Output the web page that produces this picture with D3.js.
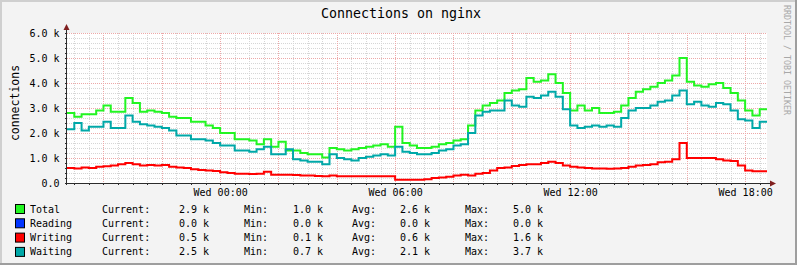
<!DOCTYPE html>
<meta charset="utf-8">
<script src="https://d3js.org/d3.v7.min.js"></script>
<style>
  body { margin: 0; background: #fff; }
  text { font-family: "DejaVu Sans Mono", monospace; }
</style>
<div id="chart"></div>
<script>

// one value every 15 minutes, starting Tue 18:45
var total = [
  2.80, 2.65, 2.75, 2.75, 2.90, 3.10, 2.85, 2.85, 3.40, 3.20, 2.85, 2.90,
  2.85, 2.80, 2.65, 2.60, 2.60, 2.45, 2.45, 2.30, 2.20, 2.00, 2.00, 1.75,
  1.75, 1.70, 1.55, 1.75, 1.45, 1.65, 1.30, 1.30, 1.20, 1.15, 1.15, 1.02,
  1.40, 1.35, 1.30, 1.35, 1.40, 1.45, 1.50, 1.55, 1.45, 2.25, 1.60, 1.50,
  1.40, 1.40, 1.45, 1.55, 1.60, 1.70, 1.75, 2.30, 2.90, 3.10, 3.20, 3.30,
  3.60, 3.70, 3.75, 4.20, 4.05, 4.10, 4.35, 4.00, 3.60, 2.90, 3.10, 2.90,
  3.00, 2.80, 2.80, 2.85, 3.10, 3.40, 3.65, 3.75, 3.85, 4.00, 4.10, 4.30,
  5.00, 4.05, 3.90, 3.85, 3.95, 4.00, 3.80, 3.60, 3.30, 2.90, 2.70, 2.95
];
var reading = [
  0, 0, 0, 0, 0, 0, 0, 0, 0, 0, 0, 0, 0, 0, 0, 0, 0, 0, 0, 0, 0, 0, 0, 0,
  0, 0, 0, 0, 0, 0, 0, 0, 0, 0, 0, 0, 0, 0, 0, 0, 0, 0, 0, 0, 0, 0, 0, 0,
  0, 0, 0, 0, 0, 0, 0, 0, 0, 0, 0, 0, 0, 0, 0, 0, 0, 0, 0, 0, 0, 0, 0, 0,
  0, 0, 0, 0, 0, 0, 0, 0, 0, 0, 0, 0, 0, 0, 0, 0, 0, 0, 0, 0, 0, 0, 0, 0
];
var writing = [
  0.60, 0.58, 0.62, 0.60, 0.65, 0.67, 0.70, 0.75, 0.80, 0.75, 0.70, 0.72,
  0.70, 0.72, 0.65, 0.62, 0.60, 0.55, 0.52, 0.50, 0.48, 0.43, 0.40, 0.37,
  0.37, 0.36, 0.37, 0.45, 0.33, 0.33, 0.33, 0.32, 0.30, 0.30, 0.28, 0.27,
  0.30, 0.27, 0.27, 0.27, 0.27, 0.27, 0.27, 0.27, 0.27, 0.13, 0.13, 0.13,
  0.13, 0.15, 0.20, 0.22, 0.25, 0.30, 0.33, 0.30, 0.37, 0.40, 0.50, 0.60,
  0.62, 0.68, 0.72, 0.75, 0.75, 0.80, 0.85, 0.80, 0.70, 0.65, 0.62, 0.60,
  0.58, 0.58, 0.57, 0.58, 0.60, 0.65, 0.70, 0.72, 0.75, 0.83, 0.85, 0.95,
  1.60, 1.00, 1.00, 1.00, 1.00, 0.95, 0.90, 0.88, 0.70, 0.50, 0.47, 0.47
];
var waiting = [
  2.15, 2.40, 2.10, 2.25, 2.25, 2.45, 2.20, 2.20, 2.70, 2.45, 2.35, 2.30,
  2.25, 2.20, 2.10, 1.90, 1.90, 1.75, 1.75, 1.70, 1.60, 1.50, 1.50, 1.30,
  1.30, 1.25, 1.35, 1.45, 1.15, 1.15, 1.35, 0.95, 0.90, 0.85, 0.85, 0.75,
  1.15, 1.00, 0.95, 0.90, 1.00, 1.05, 1.10, 1.15, 1.10, 1.45, 1.25, 1.20,
  1.15, 1.15, 1.20, 1.30, 1.35, 1.50, 1.55, 2.00, 2.70, 2.85, 2.90, 2.90,
  3.30, 3.10, 3.05, 3.45, 3.40, 3.50, 3.65, 3.45, 2.95, 2.30, 2.20, 2.25,
  2.30, 2.25, 2.30, 2.25, 2.60, 2.90, 3.00, 3.00, 3.10, 3.25, 3.30, 3.50,
  3.70, 3.15, 3.25, 3.10, 3.05, 3.20, 3.15, 2.90, 2.55, 2.50, 2.20, 2.45
];

var seriesNames = ["Total", "Reading", "Writing", "Waiting"];
var currentVals = ["2.9 k", "0.0 k", "0.5 k", "2.5 k"];
var minVals     = ["1.0 k", "0.0 k", "0.1 k", "0.7 k"];
var avgVals     = ["2.6 k", "0.0 k", "0.6 k", "2.1 k"];
var maxVals     = ["5.0 k", "0.0 k", "1.6 k", "3.7 k"];

var yTicks = [0, 1, 2, 3, 4, 5, 6];
var yTickLabels = ["0.0", "1.0 k", "2.0 k", "3.0 k", "4.0 k", "5.0 k", "6.0 k"];

var colors = ["#22f522", "#0033ff", "#ff0000", "#00a8a8"];

var W = 797, H = 265;
var pL = 67, pR = 767, pT = 33, pB = 183;

var start = new Date(2024, 0, 2, 18, 45);
var end = new Date(2024, 0, 3, 18, 45);
var stepMs = 15 * 60 * 1000;

var svg = d3.select("#chart").append("svg")
  .attr("width", W).attr("height", H);

// background + 3d frame
svg.append("rect").attr("width", W).attr("height", H).attr("fill", "#f3f3f3");
svg.append("rect").attr("x", pL).attr("y", pT).attr("width", pR - pL).attr("height", pB - pT).attr("fill", "#fff");
svg.append("path").attr("d", "M0,1H" + W + "M1,0V" + H).attr("stroke", "#cfcfcf").attr("stroke-width", 2).attr("fill", "none");
svg.append("path").attr("d", "M0," + (H - 1) + "H" + W + "M" + (W - 1) + ",0V" + H).attr("stroke", "#9e9e9e").attr("stroke-width", 2).attr("fill", "none");

// lines are clipped to the canvas, so a zero series hides under the axis
svg.append("clipPath").attr("id", "plotclip").append("rect")
  .attr("x", pL).attr("y", pT - 10).attr("width", pR - pL).attr("height", pB - pT + 9);

var x = d3.scaleTime().domain([start, end]).range([pL, pR]);
var y = d3.scaleLinear().domain([0, 6]).range([pB, pT]);

// grid
var g = svg.append("g").attr("shape-rendering", "crispEdges");
var minorX = d3.timeMinute.every(30).range(start, end).filter(function(d) { return d.getMinutes() == 0 ? d.getHours() % 2 != 0 : true; });
var majorX = d3.timeHour.every(2).range(start, end);
var minorY = d3.range(0, 30).map(function(d) { return d / 5; }).filter(function(d) { return Math.round(d * 5) % 5 != 0; });

g.selectAll(".mx").data(minorX).enter().append("line")
  .attr("x1", function(d) { return Math.round(x(d)) + 0.5; })
  .attr("x2", function(d) { return Math.round(x(d)) + 0.5; })
  .attr("y1", pT).attr("y2", pB)
  .attr("stroke", "#d6d6d6").attr("stroke-dasharray", "1,1");
g.selectAll(".my").data(minorY).enter().append("line")
  .attr("y1", function(d) { return Math.round(y(d)) + 0.5; })
  .attr("y2", function(d) { return Math.round(y(d)) + 0.5; })
  .attr("x1", pL).attr("x2", pR)
  .attr("stroke", "#d6d6d6").attr("stroke-dasharray", "1,1");
g.selectAll(".Mx").data(majorX).enter().append("line")
  .attr("x1", function(d) { return Math.round(x(d)) + 0.5; })
  .attr("x2", function(d) { return Math.round(x(d)) + 0.5; })
  .attr("y1", pT).attr("y2", pB)
  .attr("stroke", "#eda8a8").attr("stroke-dasharray", "1,1");
g.selectAll(".My").data(yTicks.slice(1)).enter().append("line")
  .attr("y1", function(d) { return Math.round(y(d)) + 0.5; })
  .attr("y2", function(d) { return Math.round(y(d)) + 0.5; })
  .attr("x1", pL).attr("x2", pR)
  .attr("stroke", "#eda8a8").attr("stroke-dasharray", "1,1");

// series lines
var line = d3.line()
  .x(function(d, i) { return x(new Date(start.getTime() + i * stepMs)); })
  .y(function(d) { return y(d); })
  .curve(d3.curveStepAfter);

[total, reading, writing, waiting].forEach(function(s, k) {
  svg.append("path")
    .attr("clip-path", "url(#plotclip)")
    .attr("d", line(s.concat([s[s.length - 1]])))
    .attr("fill", "none")
    .attr("stroke", colors[k])
    .attr("stroke-width", 2);
});

// axes
var axisColor = "#2c2c2c";
var xAxis = svg.append("g").attr("transform", "translate(0," + (pB + 0.5) + ")")
  .call(d3.axisBottom(x).tickValues(d3.timeHour.every(6).range(start, end)).tickFormat(d3.timeFormat("%a %H:%M")).tickSize(0).tickPadding(5));
xAxis.select(".domain").remove();
xAxis.selectAll("text").attr("font-size", 10).attr("fill", "#000").attr("font-family", "DejaVu Sans Mono");

var yAxis = svg.append("g").attr("transform", "translate(" + (pL - 0.5) + ",0)")
  .call(d3.axisLeft(y).tickValues(yTicks).tickFormat(function(d, i) { return yTickLabels[i]; }).tickSize(0).tickPadding(7));
yAxis.select(".domain").remove();
yAxis.selectAll("text").attr("font-size", 10).attr("fill", "#000").attr("font-family", "DejaVu Sans Mono");

// small ticks on the axes
var tk = svg.append("g").attr("stroke", axisColor).attr("shape-rendering", "crispEdges");
minorX.concat(majorX).forEach(function(d) {
  var px = Math.round(x(d)) + 0.5;
  tk.append("line").attr("x1", px).attr("x2", px).attr("y1", pB).attr("y2", pB + 2);
});
minorY.concat(yTicks).forEach(function(d) {
  var py = Math.round(y(d)) + 0.5;
  tk.append("line").attr("x1", pL - 2).attr("x2", pL).attr("y1", py).attr("y2", py);
});

svg.append("line").attr("x1", pL - 0.5).attr("x2", pL - 0.5).attr("y1", pT - 4).attr("y2", pB + 2)
  .attr("stroke", axisColor).attr("shape-rendering", "crispEdges");
svg.append("line").attr("x1", pL - 2).attr("x2", pR + 4).attr("y1", pB + 0.5).attr("y2", pB + 0.5)
  .attr("stroke", axisColor).attr("shape-rendering", "crispEdges");
svg.append("path").attr("d", "M" + (pL - 3.5) + "," + (pT - 3) + "L" + (pL - 0.5) + "," + (pT - 9) + "L" + (pL + 2.5) + "," + (pT - 3) + "Z")
  .attr("fill", "#7f1f1f");
svg.append("path").attr("d", "M" + (pR + 3) + "," + (pB - 2.5) + "L" + (pR + 9) + "," + (pB + 0.5) + "L" + (pR + 3) + "," + (pB + 3.5) + "Z")
  .attr("fill", "#7f1f1f");

// title and labels
svg.append("text").attr("x", 401).attr("y", 18).attr("text-anchor", "middle")
  .attr("font-size", 13.3).attr("fill", "#000").text("Connections on nginx");
svg.append("text").attr("transform", "translate(15,103) rotate(-90)").attr("text-anchor", "middle")
  .attr("dy", "0.35em").attr("font-size", 11.5).attr("fill", "#000").text("connections");
svg.append("text").attr("transform", "translate(787,5) rotate(90)").attr("text-anchor", "start")
  .attr("dy", "0.35em").attr("font-size", 8.3).attr("fill", "#a8a8a8").text("RRDTOOL / TOBI OETIKER");

// legend
var leg = svg.append("g").selectAll("g").data(seriesNames).enter().append("g")
  .attr("transform", function(d, i) { return "translate(0," + (209 + i * 14.3) + ")"; });
leg.append("rect").attr("x", 15.5).attr("y", -4.5).attr("width", 9).attr("height", 9)
  .attr("fill", function(d, i) { return colors[i]; }).attr("stroke", "#000");
var cols = [
  [30, function(d) { return d; }],
  [102, function() { return "Current:"; }],
  [179, function(d, i) { return currentVals[i]; }],
  [244, function() { return "Min:"; }],
  [293, function(d, i) { return minVals[i]; }],
  [352, function() { return "Avg:"; }],
  [400, function(d, i) { return avgVals[i]; }],
  [465, function() { return "Max:"; }],
  [513, function(d, i) { return maxVals[i]; }]
];
cols.forEach(function(c) {
  leg.append("text").attr("x", c[0]).attr("dy", "0.35em").attr("font-size", 10)
    .attr("fill", "#000").style("white-space", "pre").text(c[1]);
});

</script>
